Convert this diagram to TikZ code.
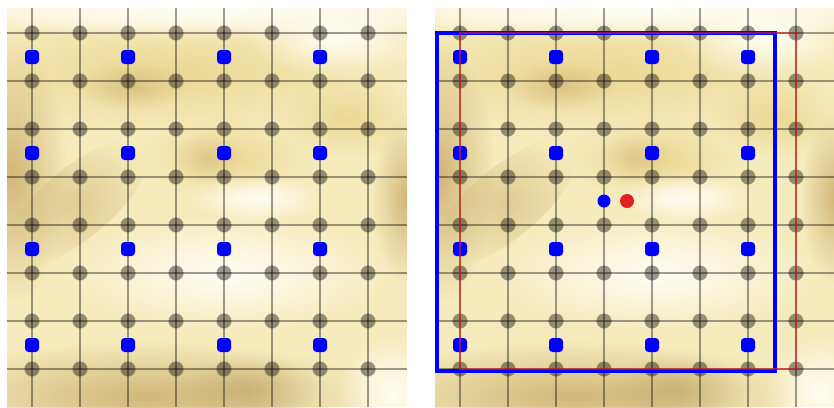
\documentclass[tikz,border=0pt]{standalone}
\usetikzlibrary{fadings}
\definecolor{photobase}{HTML}{F6EBBC}
\definecolor{photowhite}{HTML}{FFFEF4}
\definecolor{photoyellow}{HTML}{EDD894}
\definecolor{phototan}{HTML}{D2B778}
\definecolor{photodark}{HTML}{BBA060}
\definecolor{boxred}{HTML}{E02020}
\tikzfading[name=softblob, inner color=transparent!0, outer color=transparent!100]
\tikzset{
  blob/.style={fill=#1, path fading=softblob},
  gridline/.style={draw=black, draw opacity=0.38, line width=0.9pt},
  griddot/.style={fill=black, fill opacity=0.4},
  sampledot/.style={fill=blue, rounded corners=3pt},
}
% one blurred photo with its grid, in pixels from its top left corner
\newcommand\panel{%
  \begin{scope}
    \clip (0,0) rectangle (400,399);
    \fill[photobase] (0,0) rectangle (400,399);
    \fill[blob=photoyellow] (160,65) ellipse [x radius=240, y radius=60];
    \fill[blob=photowhite] (200,-15) ellipse [x radius=400, y radius=50];
    \fill[blob=photowhite] (200,0) ellipse [x radius=300, y radius=30];
    \fill[blob=phototan, fill opacity=0.7] (125,78) ellipse [x radius=55, y radius=25];
    \fill[blob=phototan] (5,165) ellipse [x radius=55, y radius=130];
    \fill[blob=phototan, fill opacity=0.6, rotate around={40:(70,195)}] (70,195) ellipse [x radius=90, y radius=35];
    \fill[blob=photoyellow] (220,150) ellipse [x radius=90, y radius=40];
    \fill[blob=phototan, fill opacity=0.5] (200,150) ellipse [x radius=35, y radius=25];
    \fill[blob=phototan] (400,190) ellipse [x radius=35, y radius=85];
    \fill[blob=photowhite] (220,265) ellipse [x radius=170, y radius=60];
    \fill[blob=photowhite] (250,190) ellipse [x radius=70, y radius=25];
    \fill[blob=phototan] (140,388) ellipse [x radius=230, y radius=55];
    \fill[blob=photodark, fill opacity=0.6] (240,382) ellipse [x radius=70, y radius=35];
    \fill[blob=photowhite] (385,385) ellipse [x radius=55, y radius=60];
    \fill[blob=photowhite] (330,30) ellipse [x radius=90, y radius=40];
    \fill[blob=photoyellow] (340,110) ellipse [x radius=70, y radius=40];
  \end{scope}
  \foreach \i in {0,...,7} {
    \draw[gridline] ({25+48*\i},0) -- ({25+48*\i},399);
    \draw[gridline] (0,{25+48*\i}) -- (400,{25+48*\i});
  }
  \foreach \i in {0,...,7}
    \foreach \j in {0,...,7}
      \fill[griddot] ({25+48*\i},{25+48*\j}) circle [radius=7.5];
  \foreach \i in {0,...,3}
    \foreach \j in {0,...,3}
      \fill[sampledot] ({18+96*\i},{42+96*\j}) rectangle +(14,14);
}
\begin{document}
\begin{tikzpicture}[x=0.03cm, y=-0.03cm]
\useasboundingbox[fill=white] (0,0) rectangle (834,407);
\begin{scope}[shift={(7,8)}]
  \panel
\end{scope}
\begin{scope}[shift={(435,8)}]
  \panel
\end{scope}
% window before and after the shift
\draw[blue, line width=3.4pt] (437,33) rectangle (775,371);
\draw[boxred, draw opacity=0.6, line width=2.4pt] (460,33) rectangle (796,369);
\fill[blue] (604,201) circle [radius=6.5];
\fill[boxred] (627,201) circle [radius=7];
\end{tikzpicture}
\end{document}
